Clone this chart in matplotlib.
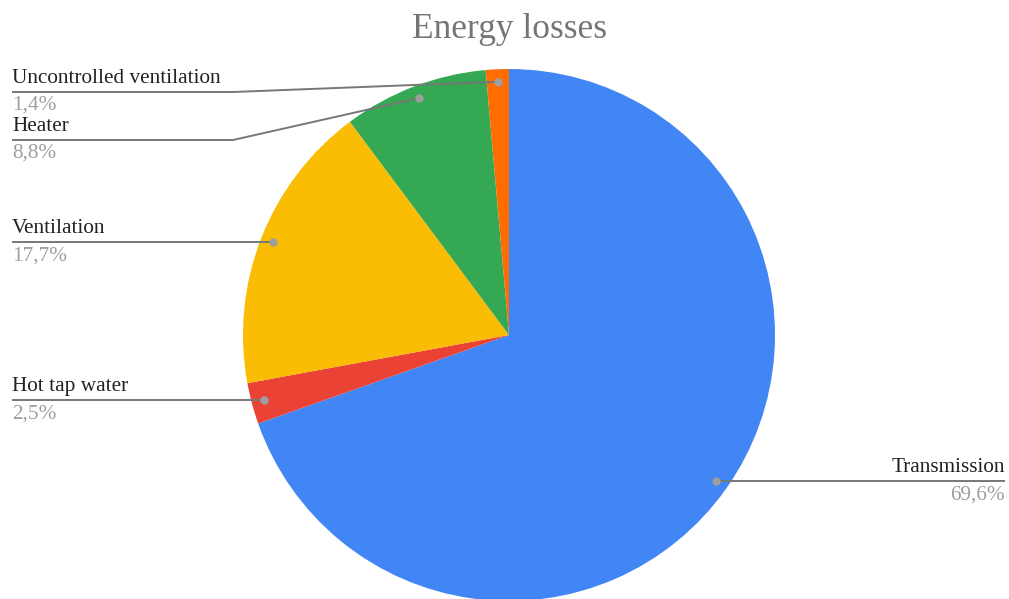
import numpy as np
import matplotlib
matplotlib.use('Agg')
import matplotlib.pyplot as plt

plt.rcParams['font.family'] = ['Liberation Serif', 'DejaVu Serif']

title = 'Energy losses'
categories = ['Transmission', 'Hot tap water', 'Ventilation', 'Heater', 'Uncontrolled ventilation']
shares = [69.6, 2.5, 17.7, 8.8, 1.4]
share_labels = ['69,6%', '2,5%', '17,7%', '8,8%', '1,4%']
colors = ['#4285F4', '#EA4335', '#FBBC04', '#34A853', '#FF6D01']

# layout in pixels (y measured downward from top of image)
W, H = 1009, 599
cx, cy, R = 509, 335, 266
# (side, line y or None for straight, elbow x)
label_layout = [
	('right', None, None),
	('left', None, None),
	('left', None, None),
	('left', 140, 233),
	('left', 92, 233),
]

fig = plt.figure(figsize=(W / 100, H / 100), dpi=100)
ax = fig.add_axes([0, 0, 1, 1])
wedges, _ = ax.pie(shares, colors=colors, startangle=90, counterclock=False,
	center=(cx, H - cy), radius=R, wedgeprops={'linewidth': 0})
ax.set_xlim(0, W)
ax.set_ylim(0, H)
ax.set_aspect('equal')
ax.axis('off')

for w, name, pct, (side, line_y, elbow_x) in zip(wedges, categories, share_labels, label_layout):
	ang = np.deg2rad((w.theta1 + w.theta2) / 2)
	dx = cx + 0.953 * R * np.cos(ang)
	dy = (H - cy) + 0.953 * R * np.sin(ang)
	ly = dy if line_y is None else H - line_y
	if side == 'right':
		xs, ys = [dx, 1005], [dy, ly]
		tx, ha = 1005, 'right'
	else:
		if elbow_x is None:
			xs, ys = [dx, 12], [dy, ly]
		else:
			xs, ys = [dx, elbow_x, 12], [dy, ly, ly]
		tx, ha = 12, 'left'
	ax.plot(xs, ys, color='#777777', lw=1.4, solid_capstyle='butt', zorder=3)
	ax.plot([dx], [dy], 'o', color='#9e9e9e', ms=6, mec='none', zorder=4)
	ax.text(tx, ly + 4, name, ha=ha, va='bottom', fontsize=15.3, color='#222222')
	ax.text(tx, ly - 4, pct, ha=ha, va='top', fontsize=15.3, color='#9e9e9e')

ax.text(509, H - 29, title, ha='center', va='center', fontsize=25.5, color='#757575')

fig.savefig('out.png', dpi=100)
